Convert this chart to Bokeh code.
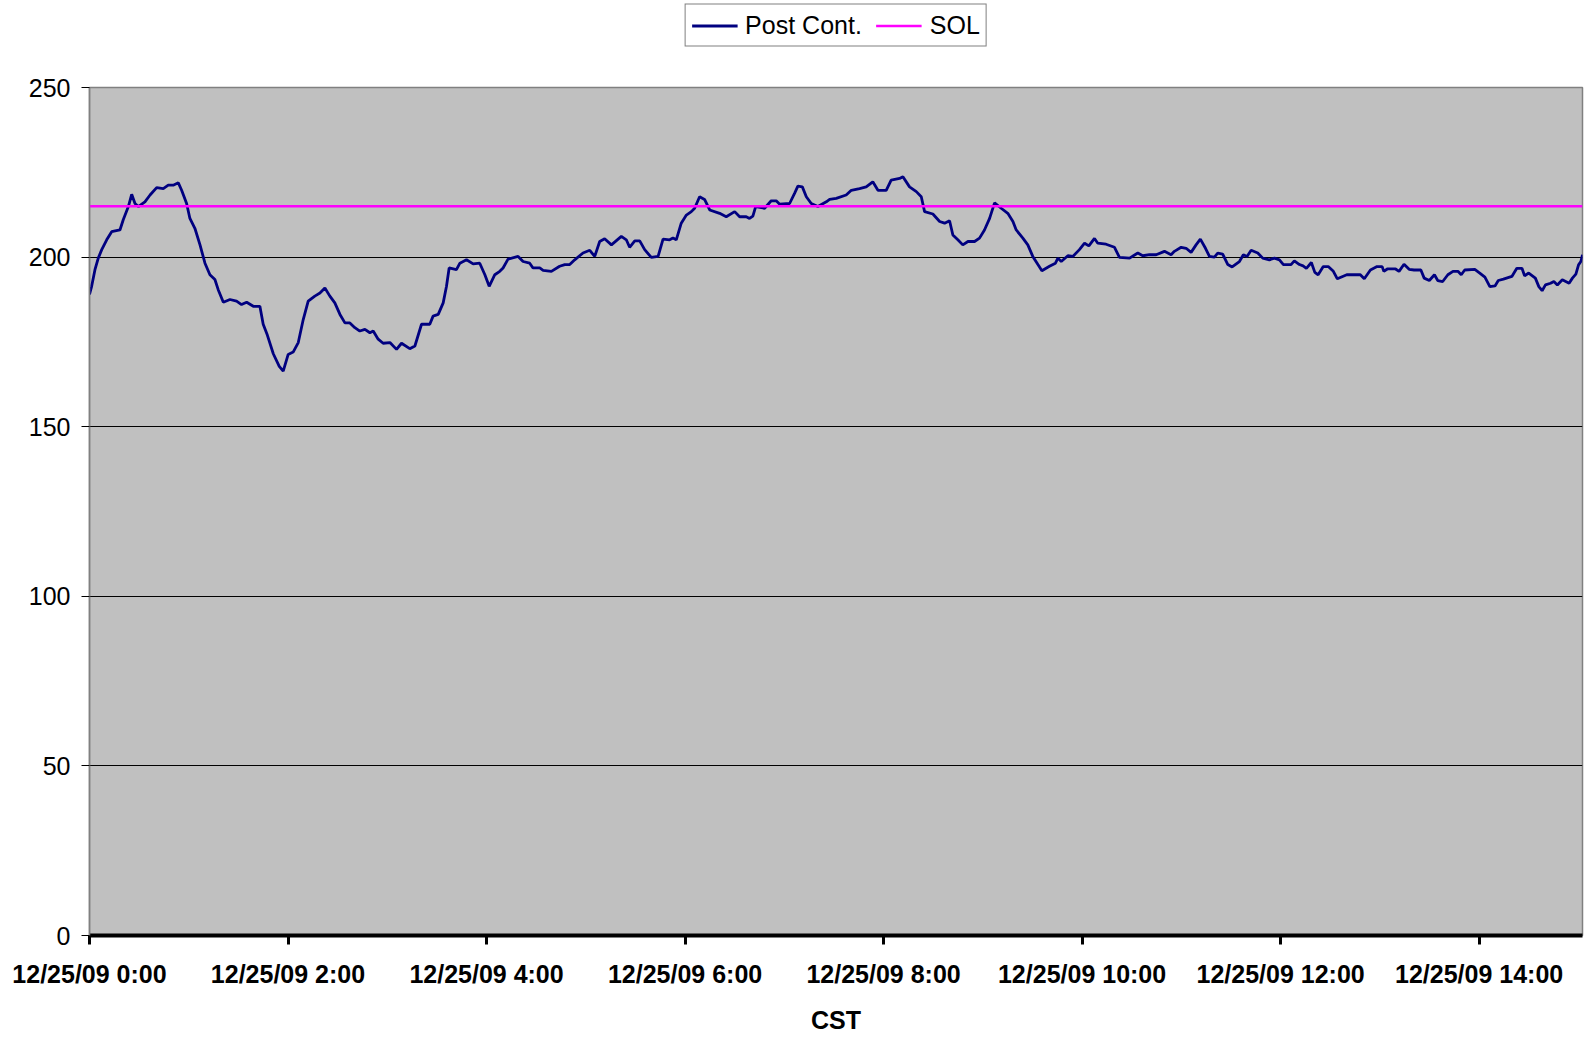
from bokeh.plotting import figure
from bokeh.models import FixedTicker, Range1d, Legend, LegendItem
from bokeh.layouts import column
from bokeh.embed import file_html
from bokeh.resources import INLINE

# minutes after 12/25/09 0:00 (CST)
minutes = [0, 1.3, 3.3, 5.3, 7.4, 10.4, 13.4, 18.4, 20.4, 23.5, 25.5, 27.5, 29.5, 33.5, 36.6, 40.6, 44.6,
           47.6, 50.6, 53.7, 55.7, 58.7, 60.7, 63.7, 66.8, 69.8, 72.8, 75.8, 77.8, 80.9, 84.9, 88.9, 91.9,
           95.0, 99.0, 103.0, 105.0, 107.5, 111.1, 114.7, 117.1, 120.1, 123.1, 126.2, 129.2, 132.2, 136.2,
           139.3, 142.3, 145.3, 148.3, 151.4, 154.4, 157.4, 160.4, 163.4, 166.5, 169.5, 171.5, 174.5, 177.5,
           181.6, 185.6, 188.6, 193.6, 196.7, 200.7, 205.7, 207.7, 210.8, 213.8, 215.8, 217.4, 221.8, 223.9,
           227.9, 231.9, 235.9, 239.0, 241.6, 245.0, 248.0,
           250.0, 253.0, 259.1, 262.1, 266.1, 268.1, 272.2, 274.2, 279.2, 284.2, 287.3, 290.3, 293.3, 298.3,
           302.4, 305.4, 308.4, 311.4, 315.5, 321.5, 324.5, 326.5, 329.6, 332.6, 335.6, 339.6, 343.7, 346.7,
           350.7, 352.7, 354.7, 357.7, 360.8, 363.8, 365.8, 368.8, 371.8, 374.9, 380.9, 384.9, 390.0, 393.0,
           397.0, 399.0, 401.0, 402.7, 408.1, 412.1, 415.1, 417.2, 423.2, 426.2, 428.2, 430.9, 433.3, 436.3,
           440.3, 445.4, 447.4, 451.4, 457.4, 460.5, 465.5, 469.5, 473.5, 476.6, 481.6, 484.6, 489.7,
           491.7, 495.7, 499.8, 502.8, 504.8, 509.8, 513.9, 516.9, 519.9, 521.9, 524.9, 527.9, 531.0, 535.0,
           538.0, 541.0, 544.1, 547.1, 551.1, 555.1, 558.2, 560.2, 564.2, 567.2, 570.2, 573.3, 575.7, 580.3,
           583.9, 585.4, 587.4, 591.4, 594.4, 598.4, 601.5, 604.1, 607.5, 609.5, 614.5, 619.6, 622.6, 628.7,
           633.7, 636.7, 640.7, 644.8, 649.8, 653.8, 655.8, 659.9, 662.9, 665.9, 668.9, 671.5, 674.6, 677.0,
           680.0, 682.0, 685.0, 688.1, 690.7, 695.1, 697.5, 699.7, 702.2, 706.2, 709.2, 713.2, 716.3, 719.3,
           721.7, 726.3, 728.3, 731.4,
           733.6, 735.6, 738.6, 740.7, 742.7, 745.8, 748.8, 751.9, 754.3, 760.0, 768.2, 770.6, 774.3, 778.3,
           781.4, 782.4, 784.5, 789.5, 791.6, 794.6, 797.7, 800.7, 804.8, 806.8, 809.9, 813.0, 815.0, 818.0,
           821.1, 824.2, 827.2, 829.2, 831.3, 837.4, 840.4, 843.5, 846.5, 849.6, 851.6, 854.7, 859.8, 862.8,
           865.9, 867.5, 870.0, 874.0, 876.1, 878.1, 880.1, 883.2, 885.2, 887.3, 890.3, 894.4, 896.4, 898.5,
           900.1, 901.5, 902.5]

post_cont = [189.0, 191.4, 196.3, 199.7, 202.2, 205.1, 207.5, 208.0, 211.0, 214.9, 218.5, 215.8, 214.9, 216.3,
             218.3, 220.5, 220.2, 221.2, 221.2, 221.9, 219.7, 215.8, 211.4, 208.5, 203.6, 198.2, 194.8, 193.4,
             190.4, 186.7, 187.5, 187.0, 186.0, 186.7, 185.5, 185.5, 180.2, 177.0, 171.5, 167.8, 166.4, 171.3,
             172.0, 174.8, 181.6, 187.0, 188.5, 189.4, 190.9, 188.5, 186.5, 183.1, 180.6, 180.6, 179.2, 178.2,
             178.7, 177.7, 178.2, 175.8, 174.6, 174.8, 172.8, 174.6, 173.0, 173.8, 180.2, 180.2, 182.6, 183.1,
             186.5, 191.4, 196.8, 196.3, 198.2, 199.2, 198.0, 198.2, 194.8, 191.4, 194.8, 195.8,
             196.8, 199.4, 200.2, 198.7, 198.2, 196.8, 196.8, 196.1, 195.8, 197.3, 197.8, 197.8, 199.2, 201.2,
             202.0, 200.2, 204.6, 205.4, 203.6, 206.1, 205.1, 202.9, 204.8, 204.8, 202.2, 199.9, 200.2, 205.3,
             205.1, 205.6, 205.1, 210.0, 212.4, 213.4, 214.4, 217.8, 217.0, 213.9, 212.9, 211.9, 213.4, 211.9,
             211.9, 211.4, 212.1, 214.9, 214.4, 216.6, 216.6, 215.6, 215.8, 218.8, 220.9, 220.7, 217.8, 215.8,
             214.9, 216.3, 217.0, 217.3, 218.3, 219.7, 220.2, 220.7, 222.2, 219.7, 219.7, 222.7, 223.2,
             223.7, 220.7, 219.3, 217.8, 213.4, 212.7, 210.5, 210.0, 210.7, 206.5, 205.1, 203.6, 204.6, 204.6,
             205.6, 208.0, 211.4, 216.0, 214.4, 212.9, 210.5, 208.0, 205.6, 203.6, 200.2, 197.8, 196.0, 197.3,
             198.2, 199.7, 198.7, 200.4, 200.2, 202.2, 204.1, 203.3, 205.5, 204.1, 203.8, 202.9, 199.9, 199.7,
             201.2, 200.4, 200.7, 200.7, 201.7, 200.7, 201.7, 202.9, 202.6, 201.4, 203.6, 205.3, 202.6, 200.2,
             200.0, 201.2, 200.9, 197.8, 197.1, 198.7, 200.7, 200.2, 202.0, 201.2, 199.7, 199.2, 199.7, 199.2,
             197.8, 197.8, 198.9, 197.8,
             197.4, 196.7, 198.4, 195.5, 194.8, 197.2, 197.2, 195.8, 193.6, 194.8, 194.8, 193.6, 196.2, 197.2,
             197.2, 195.8, 196.5, 196.5, 195.8, 197.9, 196.4, 196.2, 196.2, 193.8, 193.1, 194.8, 193.1, 192.8,
             194.8, 195.8, 195.8, 194.8, 196.2, 196.4, 195.3, 194.1, 191.3, 191.5, 193.1, 193.5, 194.3, 196.7,
             196.7, 194.5, 195.3, 193.8, 191.3, 190.1, 191.8, 192.3, 192.8, 191.8, 193.3, 192.3, 193.8, 195.0,
             197.7, 198.7, 200.7]

sol_value = 215
y_ticks = [0, 50, 100, 150, 200, 250]
tick_hours = [0, 2, 4, 6, 8, 10, 12, 14]
tick_labels = ["12/25/09 0:00", "12/25/09 2:00", "12/25/09 4:00", "12/25/09 6:00",
               "12/25/09 8:00", "12/25/09 10:00", "12/25/09 12:00", "12/25/09 14:00"]
series_names = ["Post Cont.", "SOL"]
series_colors = ["#000080", "#FF00FF"]

FONT = "Liberation Sans"

# ---------- legend strip (top) ----------
# Its view range lies outside the data, so these copies of the series only feed the legend swatches.
lg = figure(width=1584, height=50, output_backend="svg", toolbar_location=None,
            x_range=Range1d(-20, -10), y_range=Range1d(-20, -10),
            x_axis_location=None, y_axis_location=None,
            min_border_left=89, min_border_right=2, min_border_top=0, min_border_bottom=0)
lg.background_fill_color = "white"
lg.border_fill_color = "white"
lg.outline_line_color = None
lg.grid.visible = False
lg_r1 = lg.line(minutes, post_cont, line_color=series_colors[0], line_width=2.8)
lg_r2 = lg.line([minutes[0], minutes[-1]], [sol_value, sol_value], line_color=series_colors[1], line_width=2.6)

legend = Legend(items=[LegendItem(label=series_names[0], renderers=[lg_r1]),
                       LegendItem(label=series_names[1], renderers=[lg_r2])],
                orientation="horizontal", location="center")
legend.margin = 0
legend.padding = 6
legend.spacing = 14
legend.glyph_width = 46
legend.label_standoff = 8
legend.border_line_color = "black"
legend.border_line_width = 1
legend.background_fill_color = "white"
legend.background_fill_alpha = 1
legend.label_text_font = FONT
legend.label_text_font_size = "25px"
legend.label_text_color = "black"
lg.add_layout(legend, "center")

# ---------- main chart ----------
p = figure(width=1584, height=986, output_backend="svg", toolbar_location=None,
           x_range=Range1d(minutes[0], minutes[-1]), y_range=Range1d(0, 250),
           min_border_left=89, min_border_right=2, min_border_top=37, min_border_bottom=97)

p.background_fill_color = "#C0C0C0"
p.border_fill_color = "white"
p.outline_line_color = "#808080"
p.outline_line_width = 1.5

p.line(minutes, post_cont, line_color=series_colors[0], line_width=2.8)
p.line([minutes[0], minutes[-1]], [sol_value, sol_value], line_color=series_colors[1], line_width=2.6)

# grid
p.xgrid.visible = False
p.ygrid.ticker = FixedTicker(ticks=y_ticks[1:-1])
p.ygrid.grid_line_color = "black"
p.ygrid.grid_line_width = 1

# y axis
ya = p.yaxis[0]
ya.ticker = FixedTicker(ticks=y_ticks)
ya.axis_line_color = "#808080"
ya.axis_line_width = 1.5
ya.major_tick_line_color = "black"
ya.major_tick_out = 8
ya.major_tick_in = 0
ya.minor_tick_line_color = None
ya.major_label_text_font = FONT
ya.major_label_text_font_size = "25px"
ya.major_label_text_color = "black"
ya.major_label_standoff = 11

# x axis
xa = p.xaxis[0]
xa.ticker = FixedTicker(ticks=[h * 60 for h in tick_hours])
xa.major_label_overrides = {h * 60: lab for h, lab in zip(tick_hours, tick_labels)}
xa.axis_line_color = "black"
xa.axis_line_width = 4
xa.major_tick_line_color = "black"
xa.major_tick_line_width = 3
xa.major_tick_out = 9
xa.major_tick_in = 0
xa.minor_tick_line_color = None
xa.major_label_text_font = FONT
xa.major_label_text_font_size = "25px"
xa.major_label_text_font_style = "bold"
xa.major_label_text_color = "black"
xa.major_label_standoff = 15
xa.axis_label = "CST"
xa.axis_label_text_font = FONT
xa.axis_label_text_font_size = "25px"
xa.axis_label_text_font_style = "bold"
xa.axis_label_text_color = "black"
xa.axis_label_standoff = 15

layout = column(lg, p, spacing=0)
open("out.html", "w").write(file_html(layout, INLINE))
